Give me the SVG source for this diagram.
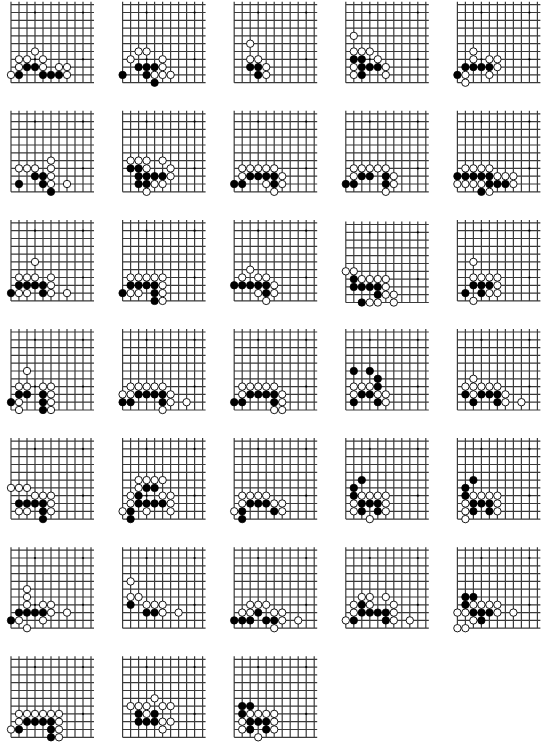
<svg xmlns="http://www.w3.org/2000/svg" width="547" height="745" viewBox="0 0 547 745">
<style>
.ln{fill:none;stroke:#3a3a3a;stroke-width:1.2}
.st{fill:#000}
.b{fill:#000;stroke:#000;stroke-width:0.8}
.w{fill:#fff;stroke:#000;stroke-width:0.9}
</style>
<defs>
<g id="grid">
<path class="ln" d="M0 0V-81M8 0V-81M16 0V-81M24 0V-81M32 0V-81M40 0V-81M48 0V-81M56 0V-81M64 0V-81M72 0V-81M80 0V-81M0 0H83M0 -7.8H83M0 -15.6H83M0 -23.4H83M0 -31.2H83M0 -39H83M0 -46.8H83M0 -54.6H83M0 -62.4H83M0 -70.2H83M0 -78H83"/>
<circle class="st" cx="24" cy="-23.4" r="1.1"/><circle class="st" cx="72" cy="-23.4" r="1.1"/><circle class="st" cx="24" cy="-70.2" r="1.1"/><circle class="st" cx="72" cy="-70.2" r="1.1"/>
</g>
<circle id="b" class="b" r="3.7"/>
<circle id="w" class="w" r="3.7"/>
</defs>
<g id="connectors"/>
<g id="board-1" transform="translate(11,82.7)"><use href="#grid"/>
<use href="#b" x="8" y="-7.8"/><use href="#b" x="16" y="-15.6"/><use href="#b" x="24" y="-15.6"/><use href="#b" x="32" y="-7.8"/><use href="#b" x="40" y="-7.8"/><use href="#b" x="48" y="-7.8"/>
<use href="#w" x="0" y="-7.8"/><use href="#w" x="8" y="-15.6"/><use href="#w" x="8" y="-23.4"/><use href="#w" x="16" y="-23.4"/><use href="#w" x="32" y="-23.4"/><use href="#w" x="24" y="-31.2"/><use href="#w" x="32" y="-15.6"/><use href="#w" x="48" y="-15.6"/><use href="#w" x="56" y="-15.6"/><use href="#w" x="56" y="-7.8"/>
</g>
<g id="board-2" transform="translate(122.6,82.7)"><use href="#grid"/>
<use href="#b" x="0" y="-7.8"/><use href="#b" x="16" y="-15.6"/><use href="#b" x="24" y="-15.6"/><use href="#b" x="32" y="-15.6"/><use href="#b" x="24" y="-7.8"/><use href="#b" x="32" y="0"/>
<use href="#w" x="8" y="-23.4"/><use href="#w" x="16" y="-31.2"/><use href="#w" x="24" y="-31.2"/><use href="#w" x="40" y="-23.4"/><use href="#w" x="40" y="-15.6"/><use href="#w" x="32" y="-7.8"/><use href="#w" x="40" y="-7.8"/><use href="#w" x="48" y="-7.8"/>
</g>
<g id="board-3" transform="translate(234.2,82.7)"><use href="#grid"/>
<use href="#b" x="16" y="-15.6"/><use href="#b" x="24" y="-15.6"/><use href="#b" x="24" y="-7.8"/>
<use href="#w" x="16" y="-39"/><use href="#w" x="16" y="-23.4"/><use href="#w" x="24" y="-23.4"/><use href="#w" x="32" y="-15.6"/><use href="#w" x="32" y="-7.8"/>
</g>
<g id="board-4" transform="translate(345.8,82.7)"><use href="#grid"/>
<use href="#b" x="8" y="-23.4"/><use href="#b" x="16" y="-23.4"/><use href="#b" x="16" y="-15.6"/><use href="#b" x="24" y="-15.6"/><use href="#b" x="32" y="-15.6"/><use href="#b" x="16" y="-7.8"/>
<use href="#w" x="8" y="-46.8"/><use href="#w" x="8" y="-31.2"/><use href="#w" x="16" y="-31.2"/><use href="#w" x="24" y="-31.2"/><use href="#w" x="32" y="-23.4"/><use href="#w" x="8" y="-15.6"/><use href="#w" x="40" y="-15.6"/><use href="#w" x="8" y="-7.8"/><use href="#w" x="40" y="-7.8"/>
</g>
<g id="board-5" transform="translate(457.4,82.7)"><use href="#grid"/>
<use href="#b" x="8" y="-15.6"/><use href="#b" x="16" y="-15.6"/><use href="#b" x="24" y="-15.6"/><use href="#b" x="32" y="-15.6"/><use href="#b" x="0" y="-7.8"/>
<use href="#w" x="16" y="-31.2"/><use href="#w" x="16" y="-23.4"/><use href="#w" x="32" y="-23.4"/><use href="#w" x="40" y="-23.4"/><use href="#w" x="40" y="-15.6"/><use href="#w" x="8" y="-7.8"/><use href="#w" x="32" y="-7.8"/><use href="#w" x="8" y="0"/>
</g>
<g id="board-6" transform="translate(11,191.8)"><use href="#grid"/>
<use href="#b" x="24" y="-15.6"/><use href="#b" x="32" y="-15.6"/><use href="#b" x="8" y="-7.8"/><use href="#b" x="32" y="-7.8"/><use href="#b" x="40" y="0"/>
<use href="#w" x="8" y="-23.4"/><use href="#w" x="16" y="-23.4"/><use href="#w" x="24" y="-23.4"/><use href="#w" x="40" y="-31.2"/><use href="#w" x="40" y="-23.4"/><use href="#w" x="40" y="-15.6"/><use href="#w" x="40" y="-7.8"/><use href="#w" x="56" y="-7.8"/>
</g>
<g id="board-7" transform="translate(122.6,191.8)"><use href="#grid"/>
<use href="#b" x="8" y="-23.4"/><use href="#b" x="16" y="-23.4"/><use href="#b" x="16" y="-15.6"/><use href="#b" x="24" y="-15.6"/><use href="#b" x="32" y="-15.6"/><use href="#b" x="40" y="-15.6"/><use href="#b" x="16" y="-7.8"/><use href="#b" x="24" y="-7.8"/>
<use href="#w" x="8" y="-31.2"/><use href="#w" x="16" y="-31.2"/><use href="#w" x="24" y="-31.2"/><use href="#w" x="40" y="-31.2"/><use href="#w" x="24" y="-23.4"/><use href="#w" x="48" y="-23.4"/><use href="#w" x="48" y="-15.6"/><use href="#w" x="32" y="-7.8"/><use href="#w" x="40" y="-7.8"/><use href="#w" x="24" y="0"/>
</g>
<g id="board-8" transform="translate(234.2,191.8)"><use href="#grid"/>
<use href="#b" x="16" y="-15.6"/><use href="#b" x="24" y="-15.6"/><use href="#b" x="32" y="-15.6"/><use href="#b" x="40" y="-15.6"/><use href="#b" x="0" y="-7.8"/><use href="#b" x="8" y="-7.8"/><use href="#b" x="40" y="-7.8"/>
<use href="#w" x="8" y="-23.4"/><use href="#w" x="16" y="-23.4"/><use href="#w" x="24" y="-23.4"/><use href="#w" x="32" y="-23.4"/><use href="#w" x="40" y="-23.4"/><use href="#w" x="8" y="-15.6"/><use href="#w" x="48" y="-15.6"/><use href="#w" x="32" y="-7.8"/><use href="#w" x="48" y="-7.8"/><use href="#w" x="40" y="0"/>
</g>
<g id="board-9" transform="translate(345.8,191.8)"><use href="#grid"/>
<use href="#b" x="16" y="-15.6"/><use href="#b" x="24" y="-15.6"/><use href="#b" x="40" y="-15.6"/><use href="#b" x="0" y="-7.8"/><use href="#b" x="8" y="-7.8"/><use href="#b" x="40" y="-7.8"/>
<use href="#w" x="8" y="-23.4"/><use href="#w" x="16" y="-23.4"/><use href="#w" x="24" y="-23.4"/><use href="#w" x="32" y="-23.4"/><use href="#w" x="40" y="-23.4"/><use href="#w" x="8" y="-15.6"/><use href="#w" x="48" y="-15.6"/><use href="#w" x="48" y="-7.8"/><use href="#w" x="40" y="0"/>
</g>
<g id="board-10" transform="translate(457.4,191.8)"><use href="#grid"/>
<use href="#b" x="0" y="-15.6"/><use href="#b" x="8" y="-15.6"/><use href="#b" x="16" y="-15.6"/><use href="#b" x="24" y="-15.6"/><use href="#b" x="32" y="-15.6"/><use href="#b" x="32" y="-7.8"/><use href="#b" x="40" y="-7.8"/><use href="#b" x="48" y="-7.8"/><use href="#b" x="24" y="0"/>
<use href="#w" x="8" y="-23.4"/><use href="#w" x="16" y="-23.4"/><use href="#w" x="24" y="-23.4"/><use href="#w" x="32" y="-23.4"/><use href="#w" x="40" y="-15.6"/><use href="#w" x="48" y="-15.6"/><use href="#w" x="56" y="-15.6"/><use href="#w" x="0" y="-7.8"/><use href="#w" x="8" y="-7.8"/><use href="#w" x="16" y="-7.8"/><use href="#w" x="24" y="-7.8"/><use href="#w" x="56" y="-7.8"/><use href="#w" x="32" y="0"/>
</g>
<g id="board-11" transform="translate(11,300.9)"><use href="#grid"/>
<use href="#b" x="8" y="-15.6"/><use href="#b" x="16" y="-15.6"/><use href="#b" x="24" y="-15.6"/><use href="#b" x="32" y="-15.6"/><use href="#b" x="0" y="-7.8"/><use href="#b" x="32" y="-7.8"/>
<use href="#w" x="24" y="-39"/><use href="#w" x="8" y="-23.4"/><use href="#w" x="16" y="-23.4"/><use href="#w" x="24" y="-23.4"/><use href="#w" x="40" y="-23.4"/><use href="#w" x="40" y="-15.6"/><use href="#w" x="8" y="-7.8"/><use href="#w" x="16" y="-7.8"/><use href="#w" x="40" y="-7.8"/><use href="#w" x="56" y="-7.8"/>
</g>
<g id="board-12" transform="translate(122.6,300.9)"><use href="#grid"/>
<use href="#b" x="8" y="-15.6"/><use href="#b" x="16" y="-15.6"/><use href="#b" x="24" y="-15.6"/><use href="#b" x="32" y="-15.6"/><use href="#b" x="0" y="-7.8"/><use href="#b" x="32" y="-7.8"/><use href="#b" x="32" y="0"/>
<use href="#w" x="8" y="-23.4"/><use href="#w" x="16" y="-23.4"/><use href="#w" x="24" y="-23.4"/><use href="#w" x="32" y="-23.4"/><use href="#w" x="40" y="-23.4"/><use href="#w" x="40" y="-15.6"/><use href="#w" x="8" y="-7.8"/><use href="#w" x="16" y="-7.8"/><use href="#w" x="40" y="-7.8"/><use href="#w" x="40" y="0"/>
</g>
<g id="board-13" transform="translate(234.2,300.9)"><use href="#grid"/>
<use href="#b" x="0" y="-15.6"/><use href="#b" x="8" y="-15.6"/><use href="#b" x="16" y="-15.6"/><use href="#b" x="24" y="-15.6"/><use href="#b" x="32" y="-15.6"/><use href="#b" x="32" y="-7.8"/>
<use href="#w" x="16" y="-31.2"/><use href="#w" x="8" y="-23.4"/><use href="#w" x="24" y="-23.4"/><use href="#w" x="32" y="-23.4"/><use href="#w" x="40" y="-15.6"/><use href="#w" x="24" y="-7.8"/><use href="#w" x="40" y="-7.8"/><use href="#w" x="32" y="0"/>
</g>
<g id="board-14" transform="translate(345.8,302.5)"><use href="#grid"/>
<use href="#b" x="8" y="-23.4"/><use href="#b" x="8" y="-15.6"/><use href="#b" x="16" y="-15.6"/><use href="#b" x="24" y="-15.6"/><use href="#b" x="32" y="-15.6"/><use href="#b" x="32" y="-7.8"/><use href="#b" x="16" y="0"/>
<use href="#w" x="0" y="-31.2"/><use href="#w" x="8" y="-31.2"/><use href="#w" x="16" y="-23.4"/><use href="#w" x="24" y="-23.4"/><use href="#w" x="32" y="-23.4"/><use href="#w" x="40" y="-23.4"/><use href="#w" x="40" y="-15.6"/><use href="#w" x="40" y="-7.8"/><use href="#w" x="48" y="-7.8"/><use href="#w" x="24" y="0"/><use href="#w" x="32" y="0"/><use href="#w" x="48" y="0"/>
</g>
<g id="board-15" transform="translate(457.4,300.9)"><use href="#grid"/>
<use href="#b" x="16" y="-15.6"/><use href="#b" x="24" y="-15.6"/><use href="#b" x="32" y="-15.6"/><use href="#b" x="8" y="-7.8"/><use href="#b" x="24" y="-7.8"/>
<use href="#w" x="16" y="-39"/><use href="#w" x="16" y="-23.4"/><use href="#w" x="24" y="-23.4"/><use href="#w" x="32" y="-23.4"/><use href="#w" x="40" y="-23.4"/><use href="#w" x="40" y="-15.6"/><use href="#w" x="32" y="-7.8"/><use href="#w" x="40" y="-7.8"/><use href="#w" x="16" y="0"/>
</g>
<g id="board-16" transform="translate(11,410)"><use href="#grid"/>
<use href="#b" x="8" y="-15.6"/><use href="#b" x="16" y="-15.6"/><use href="#b" x="32" y="-15.6"/><use href="#b" x="0" y="-7.8"/><use href="#b" x="32" y="-7.8"/><use href="#b" x="32" y="0"/>
<use href="#w" x="16" y="-39"/><use href="#w" x="8" y="-23.4"/><use href="#w" x="16" y="-23.4"/><use href="#w" x="32" y="-23.4"/><use href="#w" x="40" y="-23.4"/><use href="#w" x="40" y="-15.6"/><use href="#w" x="8" y="-7.8"/><use href="#w" x="40" y="-7.8"/><use href="#w" x="8" y="0"/><use href="#w" x="40" y="0"/>
</g>
<g id="board-17" transform="translate(122.6,410)"><use href="#grid"/>
<use href="#b" x="16" y="-15.6"/><use href="#b" x="24" y="-15.6"/><use href="#b" x="32" y="-15.6"/><use href="#b" x="40" y="-15.6"/><use href="#b" x="0" y="-7.8"/><use href="#b" x="8" y="-7.8"/><use href="#b" x="40" y="-7.8"/>
<use href="#w" x="8" y="-23.4"/><use href="#w" x="16" y="-23.4"/><use href="#w" x="24" y="-23.4"/><use href="#w" x="32" y="-23.4"/><use href="#w" x="40" y="-23.4"/><use href="#w" x="0" y="-15.6"/><use href="#w" x="8" y="-15.6"/><use href="#w" x="48" y="-15.6"/><use href="#w" x="48" y="-7.8"/><use href="#w" x="64" y="-7.8"/><use href="#w" x="40" y="0"/>
</g>
<g id="board-18" transform="translate(234.2,410)"><use href="#grid"/>
<use href="#b" x="16" y="-15.6"/><use href="#b" x="24" y="-15.6"/><use href="#b" x="32" y="-15.6"/><use href="#b" x="40" y="-15.6"/><use href="#b" x="0" y="-7.8"/><use href="#b" x="8" y="-7.8"/><use href="#b" x="40" y="-7.8"/>
<use href="#w" x="8" y="-23.4"/><use href="#w" x="16" y="-23.4"/><use href="#w" x="24" y="-23.4"/><use href="#w" x="32" y="-23.4"/><use href="#w" x="40" y="-23.4"/><use href="#w" x="8" y="-15.6"/><use href="#w" x="48" y="-15.6"/><use href="#w" x="48" y="-7.8"/><use href="#w" x="40" y="0"/><use href="#w" x="48" y="0"/>
</g>
<g id="board-19" transform="translate(345.8,410)"><use href="#grid"/>
<use href="#b" x="8" y="-39"/><use href="#b" x="24" y="-39"/><use href="#b" x="32" y="-31.2"/><use href="#b" x="32" y="-23.4"/><use href="#b" x="16" y="-15.6"/><use href="#b" x="24" y="-15.6"/><use href="#b" x="8" y="-7.8"/><use href="#b" x="32" y="-7.8"/>
<use href="#w" x="8" y="-23.4"/><use href="#w" x="16" y="-23.4"/><use href="#w" x="24" y="-23.4"/><use href="#w" x="8" y="-15.6"/><use href="#w" x="32" y="-15.6"/><use href="#w" x="40" y="-15.6"/><use href="#w" x="40" y="-7.8"/>
</g>
<g id="board-20" transform="translate(457.4,410)"><use href="#grid"/>
<use href="#b" x="8" y="-15.6"/><use href="#b" x="24" y="-15.6"/><use href="#b" x="32" y="-15.6"/><use href="#b" x="40" y="-15.6"/><use href="#b" x="16" y="-7.8"/><use href="#b" x="40" y="-7.8"/>
<use href="#w" x="16" y="-31.2"/><use href="#w" x="8" y="-23.4"/><use href="#w" x="16" y="-23.4"/><use href="#w" x="24" y="-23.4"/><use href="#w" x="32" y="-23.4"/><use href="#w" x="40" y="-23.4"/><use href="#w" x="16" y="-15.6"/><use href="#w" x="48" y="-15.6"/><use href="#w" x="48" y="-7.8"/><use href="#w" x="64" y="-7.8"/>
</g>
<g id="board-21" transform="translate(11,519.1)"><use href="#grid"/>
<use href="#b" x="8" y="-15.6"/><use href="#b" x="16" y="-15.6"/><use href="#b" x="24" y="-15.6"/><use href="#b" x="32" y="-15.6"/><use href="#b" x="32" y="-7.8"/><use href="#b" x="32" y="0"/>
<use href="#w" x="0" y="-31.2"/><use href="#w" x="8" y="-31.2"/><use href="#w" x="16" y="-31.2"/><use href="#w" x="24" y="-23.4"/><use href="#w" x="32" y="-23.4"/><use href="#w" x="40" y="-23.4"/><use href="#w" x="40" y="-15.6"/><use href="#w" x="8" y="-7.8"/><use href="#w" x="16" y="-7.8"/><use href="#w" x="40" y="-7.8"/>
</g>
<g id="board-22" transform="translate(122.6,519.1)"><use href="#grid"/>
<use href="#b" x="24" y="-31.2"/><use href="#b" x="32" y="-31.2"/><use href="#b" x="16" y="-23.4"/><use href="#b" x="16" y="-15.6"/><use href="#b" x="24" y="-15.6"/><use href="#b" x="32" y="-15.6"/><use href="#b" x="40" y="-15.6"/><use href="#b" x="8" y="-7.8"/><use href="#b" x="8" y="0"/>
<use href="#w" x="16" y="-39"/><use href="#w" x="24" y="-39"/><use href="#w" x="32" y="-39"/><use href="#w" x="40" y="-39"/><use href="#w" x="16" y="-31.2"/><use href="#w" x="8" y="-23.4"/><use href="#w" x="40" y="-23.4"/><use href="#w" x="48" y="-23.4"/><use href="#w" x="8" y="-15.6"/><use href="#w" x="48" y="-15.6"/><use href="#w" x="0" y="-7.8"/><use href="#w" x="24" y="-7.8"/><use href="#w" x="48" y="-7.8"/>
</g>
<g id="board-23" transform="translate(234.2,519.1)"><use href="#grid"/>
<use href="#b" x="16" y="-15.6"/><use href="#b" x="24" y="-15.6"/><use href="#b" x="32" y="-15.6"/><use href="#b" x="8" y="-7.8"/><use href="#b" x="40" y="-7.8"/><use href="#b" x="8" y="0"/>
<use href="#w" x="8" y="-23.4"/><use href="#w" x="16" y="-23.4"/><use href="#w" x="24" y="-23.4"/><use href="#w" x="32" y="-23.4"/><use href="#w" x="8" y="-15.6"/><use href="#w" x="40" y="-15.6"/><use href="#w" x="48" y="-15.6"/><use href="#w" x="0" y="-7.8"/><use href="#w" x="48" y="-7.8"/>
</g>
<g id="board-24" transform="translate(345.8,519.1)"><use href="#grid"/>
<use href="#b" x="16" y="-39"/><use href="#b" x="8" y="-31.2"/><use href="#b" x="8" y="-23.4"/><use href="#b" x="16" y="-15.6"/><use href="#b" x="24" y="-15.6"/><use href="#b" x="32" y="-15.6"/><use href="#b" x="16" y="-7.8"/><use href="#b" x="32" y="-7.8"/>
<use href="#w" x="16" y="-23.4"/><use href="#w" x="24" y="-23.4"/><use href="#w" x="32" y="-23.4"/><use href="#w" x="40" y="-23.4"/><use href="#w" x="8" y="-15.6"/><use href="#w" x="40" y="-15.6"/><use href="#w" x="8" y="-7.8"/><use href="#w" x="40" y="-7.8"/><use href="#w" x="24" y="0"/>
</g>
<g id="board-25" transform="translate(457.4,519.1)"><use href="#grid"/>
<use href="#b" x="16" y="-39"/><use href="#b" x="8" y="-31.2"/><use href="#b" x="8" y="-23.4"/><use href="#b" x="16" y="-15.6"/><use href="#b" x="24" y="-15.6"/><use href="#b" x="32" y="-15.6"/><use href="#b" x="16" y="-7.8"/><use href="#b" x="32" y="-7.8"/>
<use href="#w" x="16" y="-23.4"/><use href="#w" x="24" y="-23.4"/><use href="#w" x="32" y="-23.4"/><use href="#w" x="40" y="-23.4"/><use href="#w" x="8" y="-15.6"/><use href="#w" x="40" y="-15.6"/><use href="#w" x="8" y="-7.8"/><use href="#w" x="40" y="-7.8"/><use href="#w" x="8" y="0"/>
</g>
<g id="board-26" transform="translate(11,628.2)"><use href="#grid"/>
<use href="#b" x="8" y="-15.6"/><use href="#b" x="16" y="-15.6"/><use href="#b" x="24" y="-15.6"/><use href="#b" x="32" y="-15.6"/><use href="#b" x="0" y="-7.8"/>
<use href="#w" x="16" y="-39"/><use href="#w" x="16" y="-31.2"/><use href="#w" x="16" y="-23.4"/><use href="#w" x="32" y="-23.4"/><use href="#w" x="40" y="-23.4"/><use href="#w" x="40" y="-15.6"/><use href="#w" x="56" y="-15.6"/><use href="#w" x="8" y="-7.8"/><use href="#w" x="32" y="-7.8"/><use href="#w" x="16" y="0"/>
</g>
<g id="board-27" transform="translate(122.6,628.2)"><use href="#grid"/>
<use href="#b" x="8" y="-23.4"/><use href="#b" x="24" y="-15.6"/><use href="#b" x="32" y="-15.6"/>
<use href="#w" x="8" y="-46.8"/><use href="#w" x="8" y="-31.2"/><use href="#w" x="16" y="-31.2"/><use href="#w" x="24" y="-23.4"/><use href="#w" x="32" y="-23.4"/><use href="#w" x="40" y="-23.4"/><use href="#w" x="40" y="-15.6"/><use href="#w" x="56" y="-15.6"/>
</g>
<g id="board-28" transform="translate(234.2,628.2)"><use href="#grid"/>
<use href="#b" x="24" y="-15.6"/><use href="#b" x="0" y="-7.8"/><use href="#b" x="8" y="-7.8"/><use href="#b" x="16" y="-7.8"/><use href="#b" x="32" y="-7.8"/><use href="#b" x="40" y="-7.8"/>
<use href="#w" x="16" y="-23.4"/><use href="#w" x="24" y="-23.4"/><use href="#w" x="32" y="-23.4"/><use href="#w" x="8" y="-15.6"/><use href="#w" x="16" y="-15.6"/><use href="#w" x="40" y="-15.6"/><use href="#w" x="48" y="-15.6"/><use href="#w" x="48" y="-7.8"/><use href="#w" x="64" y="-7.8"/><use href="#w" x="40" y="0"/>
</g>
<g id="board-29" transform="translate(345.8,628.2)"><use href="#grid"/>
<use href="#b" x="16" y="-23.4"/><use href="#b" x="16" y="-15.6"/><use href="#b" x="24" y="-15.6"/><use href="#b" x="32" y="-15.6"/><use href="#b" x="40" y="-15.6"/><use href="#b" x="8" y="-7.8"/><use href="#b" x="40" y="-7.8"/>
<use href="#w" x="16" y="-31.2"/><use href="#w" x="24" y="-31.2"/><use href="#w" x="40" y="-31.2"/><use href="#w" x="8" y="-23.4"/><use href="#w" x="24" y="-23.4"/><use href="#w" x="48" y="-23.4"/><use href="#w" x="8" y="-15.6"/><use href="#w" x="48" y="-15.6"/><use href="#w" x="0" y="-7.8"/><use href="#w" x="48" y="-7.8"/><use href="#w" x="64" y="-7.8"/>
</g>
<g id="board-30" transform="translate(457.4,628.2)"><use href="#grid"/>
<use href="#b" x="8" y="-31.2"/><use href="#b" x="16" y="-31.2"/><use href="#b" x="8" y="-23.4"/><use href="#b" x="16" y="-15.6"/><use href="#b" x="24" y="-15.6"/><use href="#b" x="32" y="-15.6"/><use href="#b" x="24" y="-7.8"/>
<use href="#w" x="16" y="-23.4"/><use href="#w" x="24" y="-23.4"/><use href="#w" x="32" y="-23.4"/><use href="#w" x="40" y="-23.4"/><use href="#w" x="0" y="-15.6"/><use href="#w" x="8" y="-15.6"/><use href="#w" x="40" y="-15.6"/><use href="#w" x="56" y="-15.6"/><use href="#w" x="16" y="-7.8"/><use href="#w" x="0" y="0"/><use href="#w" x="8" y="0"/>
</g>
<g id="board-31" transform="translate(11,737.3)"><use href="#grid"/>
<use href="#b" x="16" y="-15.6"/><use href="#b" x="24" y="-15.6"/><use href="#b" x="32" y="-15.6"/><use href="#b" x="40" y="-15.6"/><use href="#b" x="8" y="-7.8"/><use href="#b" x="40" y="-7.8"/><use href="#b" x="40" y="0"/>
<use href="#w" x="8" y="-23.4"/><use href="#w" x="16" y="-23.4"/><use href="#w" x="24" y="-23.4"/><use href="#w" x="32" y="-23.4"/><use href="#w" x="40" y="-23.4"/><use href="#w" x="48" y="-23.4"/><use href="#w" x="8" y="-15.6"/><use href="#w" x="48" y="-15.6"/><use href="#w" x="0" y="-7.8"/><use href="#w" x="48" y="-7.8"/><use href="#w" x="48" y="0"/>
</g>
<g id="board-32" transform="translate(122.6,737.3)"><use href="#grid"/>
<use href="#b" x="16" y="-23.4"/><use href="#b" x="32" y="-23.4"/><use href="#b" x="16" y="-15.6"/><use href="#b" x="24" y="-15.6"/><use href="#b" x="32" y="-15.6"/>
<use href="#w" x="32" y="-39"/><use href="#w" x="8" y="-31.2"/><use href="#w" x="16" y="-31.2"/><use href="#w" x="24" y="-31.2"/><use href="#w" x="40" y="-31.2"/><use href="#w" x="48" y="-31.2"/><use href="#w" x="24" y="-23.4"/><use href="#w" x="40" y="-15.6"/><use href="#w" x="48" y="-15.6"/><use href="#w" x="40" y="-7.8"/>
</g>
<g id="board-33" transform="translate(234.2,737.3)"><use href="#grid"/>
<use href="#b" x="8" y="-31.2"/><use href="#b" x="16" y="-31.2"/><use href="#b" x="8" y="-23.4"/><use href="#b" x="16" y="-15.6"/><use href="#b" x="24" y="-15.6"/><use href="#b" x="32" y="-15.6"/><use href="#b" x="16" y="-7.8"/><use href="#b" x="32" y="-7.8"/>
<use href="#w" x="16" y="-23.4"/><use href="#w" x="24" y="-23.4"/><use href="#w" x="32" y="-23.4"/><use href="#w" x="40" y="-23.4"/><use href="#w" x="8" y="-15.6"/><use href="#w" x="40" y="-15.6"/><use href="#w" x="8" y="-7.8"/><use href="#w" x="40" y="-7.8"/><use href="#w" x="24" y="0"/>
</g>
</svg>
